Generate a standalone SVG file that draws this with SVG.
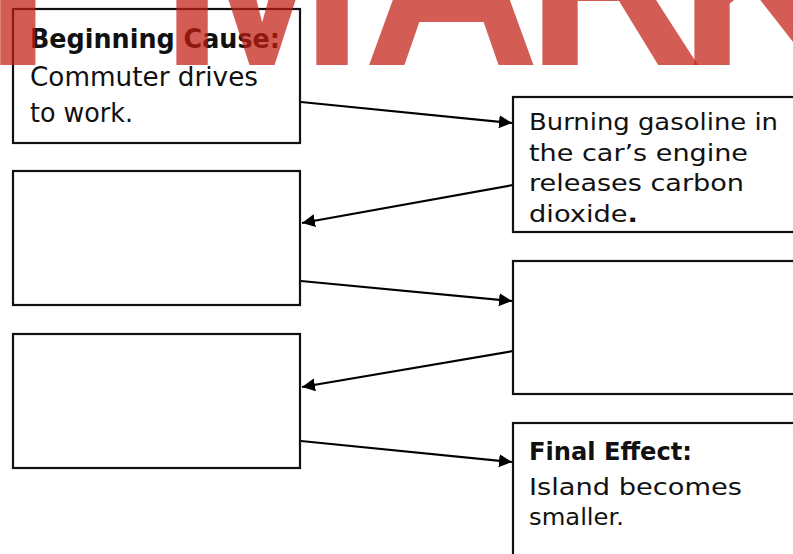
<svg xmlns="http://www.w3.org/2000/svg" width="793" height="554" viewBox="0 0 793 554">
<style>
.box{fill:#fff;stroke:#111;stroke-width:2.2}
.t{font-family:"DejaVu Sans","Liberation Sans",sans-serif;fill:#111}
.big{font-size:26px}
.sm{font-size:23px}
.b{font-weight:bold}
.conn line{stroke:#000;stroke-width:2.2;marker-end:url(#ah)}
.wm{font-family:"Liberation Sans",Arial,sans-serif;font-weight:bold;font-size:245px;fill:rgb(194,31,20);fill-opacity:0.72}
</style>
<defs>
<marker id="ah" markerUnits="userSpaceOnUse" markerWidth="15" markerHeight="14" refX="13" refY="6.5" orient="auto">
<path d="M0,0 L13,6.5 L0,13 z" fill="#000"/>
</marker>
</defs>
<rect width="793" height="554" fill="#fff"/>
<g id="connectors" class="conn">
<line x1="301" y1="102" x2="512" y2="123"/>
<line x1="513" y1="185" x2="302" y2="223"/>
<line x1="301" y1="281" x2="512" y2="301"/>
<line x1="513" y1="351" x2="302" y2="387"/>
<line x1="301" y1="441" x2="512" y2="462"/>
</g>
<g id="node-beginning">
<rect class="box" x="13" y="9" width="287" height="134"/>
<text class="t big b" x="30" y="48" textLength="250" lengthAdjust="spacingAndGlyphs">Beginning Cause:</text>
<text class="t big" x="30" y="86" textLength="228" lengthAdjust="spacingAndGlyphs">Commuter drives</text>
<text class="t big" x="30" y="122" textLength="103" lengthAdjust="spacingAndGlyphs">to work.</text>
</g>
<g id="node-left2"><rect class="box" x="13" y="171" width="287" height="134"/></g>
<g id="node-left3"><rect class="box" x="13" y="334" width="287" height="134"/></g>
<g id="node-burning">
<rect class="box" x="513" y="97" width="300" height="135"/>
<text class="t sm" x="529" y="130" textLength="249" lengthAdjust="spacingAndGlyphs">Burning gasoline in</text>
<text class="t sm" x="529" y="161" textLength="219" lengthAdjust="spacingAndGlyphs">the car’s engine</text>
<text class="t sm" x="529" y="191" textLength="215" lengthAdjust="spacingAndGlyphs">releases carbon</text>
<text class="t sm" x="529" y="222" textLength="109" lengthAdjust="spacingAndGlyphs">dioxide<tspan class="b">.</tspan></text>
</g>
<g id="node-right2"><rect class="box" x="513" y="261" width="300" height="133"/></g>
<g id="node-final">
<rect class="box" x="513" y="423" width="300" height="160"/>
<text class="t b" font-size="25" x="529" y="460" textLength="163" lengthAdjust="spacingAndGlyphs">Final Effect:</text>
<text class="t sm" x="529" y="495" textLength="213" lengthAdjust="spacingAndGlyphs">Island becomes</text>
<text class="t sm" x="529" y="525" textLength="95" lengthAdjust="spacingAndGlyphs">smaller.</text>
</g>
<text class="wm" x="-64 100 160 363 526 678" y="65">Y MARK</text>
</svg>
